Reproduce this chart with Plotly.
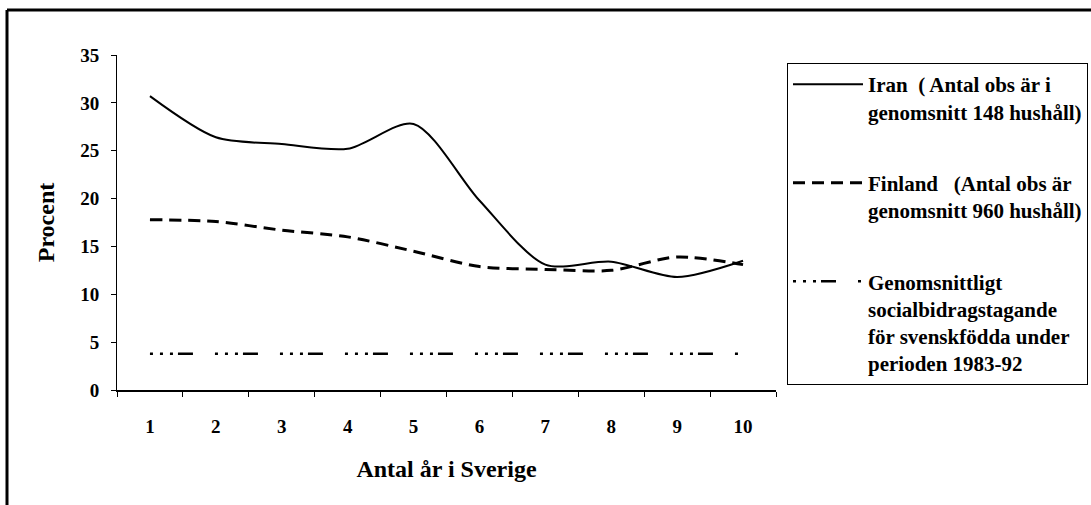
import plotly.graph_objects as go

years = ["1", "2", "3", "4", "5", "6", "7", "8", "9", "10"]
iran = [30.7, 26.4, 25.7, 25.2, 27.8, 19.8, 13.1, 13.4, 11.8, 13.5]
finland = [17.8, 17.6, 16.7, 16.0, 14.5, 12.9, 12.6, 12.5, 13.9, 13.1]
sverige = [3.8, 3.8, 3.8, 3.8, 3.8, 3.8, 3.8, 3.8, 3.8, 3.8]

name_iran = "Iran  ( Antal obs är i<br>genomsnitt 148 hushåll)"
name_fin = "Finland   (Antal obs är<br>genomsnitt 960 hushåll)"
name_swe = "Genomsnittligt<br>socialbidragstagande<br>för svenskfödda under<br>perioden 1983-92"

W, H = 1091, 505
ML, MR, MT, MB = 117, W - 776, 55, H - 390
PW, PH = W - ML - MR, H - MT - MB

def px_x(p):
    return (p - ML) / PW

def px_y(p):
    return (H - MB - p) / PH

FONT = "Liberation Serif"

fig = go.Figure()
fig.add_trace(go.Scatter(x=years, y=iran, name=name_iran, mode="lines",
                         line=dict(color="black", width=2, shape="spline", smoothing=0.8),
                         legendgroup="a"))
fig.add_trace(go.Scatter(x=years, y=finland, name=name_fin, mode="lines",
                         line=dict(color="black", width=3, dash="12px,7px", shape="spline", smoothing=0.8),
                         legendgroup="b"))
fig.add_trace(go.Scatter(x=years, y=sverige, name=name_swe, mode="lines",
                         line=dict(color="black", width=2.5, dash="3px,7px,3px,7px,3px,5px,15px,22px"),
                         legendgroup="c"))

# outer frame (top and left edges)
fig.add_shape(type="line", xref="paper", yref="paper",
              x0=px_x(7), x1=px_x(W + 5), y0=px_y(10), y1=px_y(10),
              line=dict(color="black", width=3))
fig.add_shape(type="line", xref="paper", yref="paper",
              x0=px_x(7), x1=px_x(7), y0=px_y(10), y1=px_y(H + 5),
              line=dict(color="black", width=3))

fig.update_layout(
    width=W, height=H,
    margin=dict(l=ML, r=MR, t=MT, b=MB, autoexpand=False),
    paper_bgcolor="white", plot_bgcolor="white",
    font=dict(family=FONT, color="black", size=19, weight="bold"),
    showlegend=True,
    legend=dict(x=px_x(787), y=px_y(63), xanchor="left", yanchor="top",
                bordercolor="black", borderwidth=1, bgcolor="white",
                font=dict(family=FONT, size=21, weight="bold"),
                tracegroupgap=41, traceorder="grouped", itemwidth=70, valign="top"),
    xaxis=dict(type="category", range=[-0.5, 9.5], tickson="boundaries",
               ticks="outside", ticklen=5,
               tickcolor="black", showline=True, linecolor="black", linewidth=1.5,
               showgrid=False, zeroline=False, ticklabelstandoff=18,
               tickfont=dict(family=FONT, size=19, weight="bold"),
               title=dict(text="Antal år i Sverige", standoff=25,
                          font=dict(family=FONT, size=24, weight="bold"))),
    yaxis=dict(range=[0, 35], dtick=5, ticks="outside", ticklen=5,
               tickcolor="black", showline=True, linecolor="black", linewidth=1,
               showgrid=False, zeroline=False, ticklabelstandoff=8,
               tickfont=dict(family=FONT, size=19, weight="bold"),
               title=dict(text="Procent", standoff=18,
                          font=dict(family=FONT, size=24, weight="bold"))),
)

fig.write_html("out.html", config={"displayModeBar": False},
               post_script="document.body.style.margin='0px';")
